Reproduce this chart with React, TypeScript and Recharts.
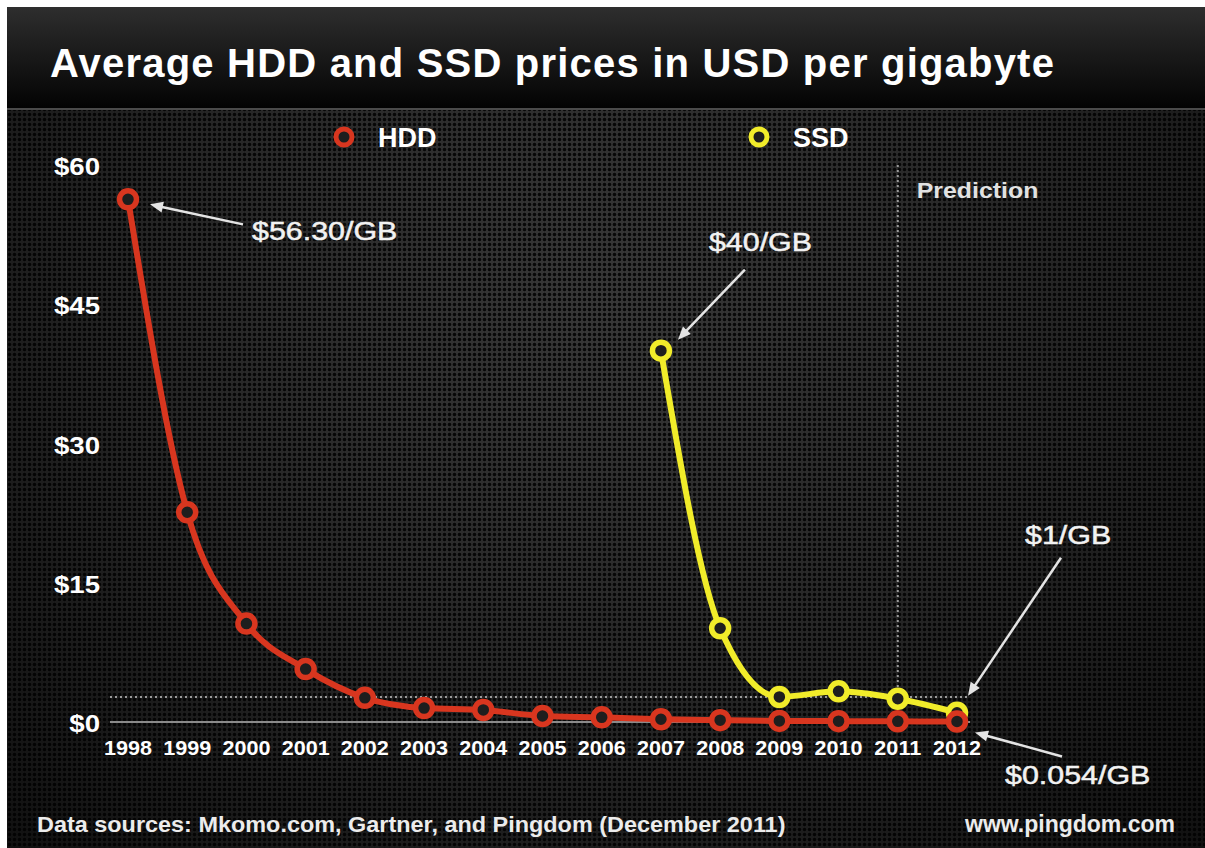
import React from "react";
import { LineChart, Line, XAxis, YAxis, ReferenceLine, ReferenceDot } from "recharts";

// values
const years = [1998, 1999, 2000, 2001, 2002, 2003, 2004, 2005, 2006, 2007, 2008, 2009, 2010, 2011, 2012];
const hddPrices = [56.3, 22.6, 10.6, 5.7, 2.6, 1.5, 1.3, 0.65, 0.5, 0.3, 0.2, 0.12, 0.09, 0.07, 0.054];
const ssdPrices = [null, null, null, null, null, null, null, null, null, 40, 10.1, 2.7, 3.3, 2.5, 1];
const yTicks = [0, 15, 30, 45, 60];
const predictionYear = 2011;
const guideLevel = 2.7;

const calloutYears = [1998, 2007, 2012, 2012];
const calloutValues = [56.3, 40, 1, 0.054];
const calloutLabels = ["$56.30/GB", "$40/GB", "$1/GB", "$0.054/GB"];

const RED = "#d8361f";
const YELLOW = "#f1ec2a";
const FONT = "'Liberation Sans', Arial, Helvetica, sans-serif";

const series = [
  { key: "ssd", name: "SSD", color: YELLOW },
  { key: "hdd", name: "HDD", color: RED },
];

const data = years.map((year, i) => ({ year, hdd: hddPrices[i], ssd: ssdPrices[i] }));

// offsets from the data point: arrow tip, arrow tail, text start (baseline)
const calloutLayout = [
  { tip: [22, 5], tail: [115, 25], text: [124, 41] },
  { tip: [17, -11], tail: [84, -81], text: [48, -100] },
  { tip: [11, -17], tail: [104, -155], text: [68, -169] },
  { tip: [18, 11], tail: [105, 35], text: [48, 63] },
];

function Stretch({ x, y, sx = 1.15, anchor = "start", size, weight = "bold", fill = "#fff", heavy = 0, children }: any) {
  return (
    <text
      transform={`translate(${x} ${y}) scale(${sx} 1)`}
      textAnchor={anchor}
      fontFamily={FONT}
      fontSize={size}
      fontWeight={weight}
      fill={fill}
      stroke={heavy ? fill : "none"}
      strokeWidth={heavy}
    >
      {children}
    </text>
  );
}

const ringDot = (color: string) => (props: any) => {
  const { cx, cy, index } = props;
  if (cx == null || cy == null || Number.isNaN(cy) || props.value == null) return <g key={index} />;
  return <circle key={index} cx={cx} cy={cy} r={8.5} fill="#1e1e1e" stroke={color} strokeWidth={5.5} />;
};

const calloutShape = (i: number) => (props: any) => {
  const { cx, cy } = props;
  const l = calloutLayout[i];
  const tx = cx + l.tip[0], ty = cy + l.tip[1];
  const ax = cx + l.tail[0], ay = cy + l.tail[1];
  const dx = tx - ax, dy = ty - ay;
  const len = Math.sqrt(dx * dx + dy * dy);
  const ux = dx / len, uy = dy / len;
  const nx = -uy, ny = ux;
  const hb = 13, hw = 5.5;
  const bx = tx - ux * hb, by = ty - uy * hb;
  return (
    <g>
      <line x1={ax} y1={ay} x2={bx + ux * 2} y2={by + uy * 2} stroke="#e4e4e4" strokeWidth={2.5} />
      <polygon points={`${tx},${ty} ${bx + nx * hw},${by + ny * hw} ${bx - nx * hw},${by - ny * hw}`} fill="#e4e4e4" />
      <Stretch x={cx + l.text[0]} y={cy + l.text[1]} size={26} weight="normal" sx={1.17} fill="#f2f2f2" heavy={0.5}>
        {calloutLabels[i]}
      </Stretch>
    </g>
  );
};

const predictionShape = (props: any) => (
  <Stretch x={props.cx + 19} y={props.cy + 33} size={22} sx={1.13} fill="#e2e2e2">
    Prediction
  </Stretch>
);

const XTick = (props: any) => (
  <Stretch x={props.x} y={props.y + 33} anchor="middle" size={20} sx={1.08}>
    {props.payload.value}
  </Stretch>
);

const YTick = (props: any) => (
  <Stretch x={100} y={props.y + 10} anchor="end" size={24} sx={1.15}>
    {"$" + props.payload.value}
  </Stretch>
);

export default function App() {
  return (
    <div style={{ position: "absolute", left: 0, top: 0, width: 1205, height: 848, background: "#fff", overflow: "hidden" }}>
      <div
        style={{
          position: "absolute",
          left: 7,
          top: 7,
          width: 1198,
          height: 841,
          backgroundColor: "#1c1c1c",
          backgroundImage:
            "radial-gradient(circle, rgba(0,0,0,0.85) 1.3px, rgba(0,0,0,0) 2.2px), radial-gradient(ellipse at 50% 35%, #383838 0%, #272727 50%, #111 100%)",
          backgroundSize: "5px 5px, 100% 100%",
        }}
      />
      <svg width={1205} height={848} style={{ position: "absolute", left: 0, top: 0 }}>
        <defs>
          <linearGradient id="bar" x1="0" y1="0" x2="0" y2="1">
            <stop offset="0%" stopColor="#2e2e2e" />
            <stop offset="100%" stopColor="#030303" />
          </linearGradient>
        </defs>
        <rect x={7} y={7} width={1198} height={101} fill="url(#bar)" />
        <rect x={7} y={108} width={1198} height={2} fill="#4a4a4a" />
        <text x={50} y={77} fontFamily={FONT} fontSize={40} fontWeight="bold" fill="#fff" letterSpacing={1.2}>
          Average HDD and SSD prices in USD per gigabyte
        </text>
        {[...series].reverse().map((s, i) => (
          <g key={s.key}>
            <circle cx={344 + i * 415} cy={137} r={8} fill="#1e1e1e" stroke={s.color} strokeWidth={5} />
            <text x={378 + i * 415} y={147} fontFamily={FONT} fontSize={27} fontWeight="bold" fill="#fff">
              {s.name}
            </text>
          </g>
        ))}
        <Stretch x={37} y={832} size={22} sx={1.065} fill="#ececec">
          Data sources: Mkomo.com, Gartner, and Pingdom (December 2011)
        </Stretch>
        <text x={1175} y={832} textAnchor="end" fontFamily={FONT} fontSize={23} fontWeight="bold" fill="#ececec">
          www.pingdom.com
        </text>
      </svg>
      <div style={{ position: "absolute", left: 0, top: 0 }}>
        <LineChart width={1205} height={848} data={data} margin={{ top: 165, right: 235, bottom: 86, left: 0 }}>
          <XAxis
            dataKey="year"
            type="number"
            domain={[1998, 2012]}
            ticks={years}
            interval={0}
            padding={{ left: 18, right: 13 }}
            axisLine={false}
            tickLine={false}
            tickSize={0}
            tickMargin={0}
            height={40}
            tick={<XTick />}
          />
          <YAxis
            domain={[0, 60]}
            ticks={yTicks}
            width={110}
            axisLine={false}
            tickLine={false}
            tick={<YTick />}
          />
          <ReferenceLine y={0} stroke="#8a8a8a" strokeWidth={2} />
          <ReferenceLine y={guideLevel} stroke="#9a9a9a" strokeWidth={2} strokeDasharray="2 3" />
          <ReferenceLine
            segment={[
              { x: predictionYear, y: guideLevel },
              { x: predictionYear, y: 60 },
            ]}
            stroke="#9a9a9a"
            strokeWidth={2}
            strokeDasharray="2 3"
          />
          <ReferenceDot x={predictionYear} y={60} shape={predictionShape} />
          {series.map((s) => (
            <Line
              key={s.key}
              dataKey={s.key}
              name={s.name}
              type="monotone"
              stroke={s.color}
              strokeWidth={6}
              dot={ringDot(s.color)}
              activeDot={false}
              isAnimationActive={false}
            />
          ))}
          {calloutYears.map((yr, i) => (
            <ReferenceDot key={i} x={yr} y={calloutValues[i]} shape={calloutShape(i)} />
          ))}
        </LineChart>
      </div>
    </div>
  );
}
